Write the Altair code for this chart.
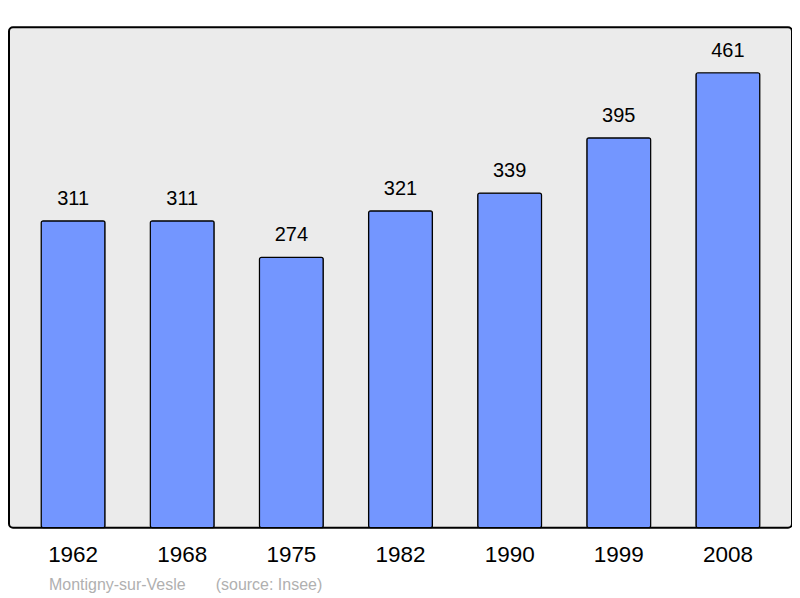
import altair as alt
import pandas as pd

years = ["1962", "1968", "1975", "1982", "1990", "1999", "2008"]
population = [311, 311, 274, 321, 339, 395, 461]
source_text = ["Montigny-sur-Vesle", "(source: Insee)"]

df = pd.DataFrame({"year": years, "pop": population})

FONT = "Liberation Sans"

x = alt.X("year:N", sort=years, title=None,
          scale=alt.Scale(paddingInner=0.415, paddingOuter=0.295, round=False),
          axis=alt.Axis(labelAngle=0, labelFontSize=22.5, labelColor="black",
                        labelFont=FONT, ticks=False, domain=False,
                        labelPadding=16, grid=False))
y = alt.Y("pop:Q", title=None, scale=alt.Scale(domain=[0, 507], nice=False),
          axis=None)

bars = alt.Chart(df).mark_bar(fill="#7396FF", stroke="black", strokeWidth=1.2,
                              cornerRadius=2).encode(x=x, y=y)
labels = alt.Chart(df).mark_text(fontSize=20, font=FONT, color="black",
                                 baseline="middle", dy=-22).encode(
    x=alt.X("year:N", sort=years), y="pop:Q", text="pop:Q")
src1 = alt.Chart(pd.DataFrame({"t": [source_text[0]]})).mark_text(
    fontSize=16, font=FONT, color="#B0B0B0", align="left",
    baseline="alphabetic").encode(x=alt.value(40), y=alt.value(563), text="t:N")
src2 = alt.Chart(pd.DataFrame({"t": [source_text[1]]})).mark_text(
    fontSize=16, font=FONT, color="#B0B0B0", align="left",
    baseline="alphabetic").encode(x=alt.value(207), y=alt.value(563), text="t:N")

chart = alt.layer(bars, labels, src1, src2).properties(
    width=784, height=501,
    autosize=alt.AutoSizeParams(type="none"),
    padding={"left": 1, "top": 19, "right": 0, "bottom": 70},
).configure_view(
    fill="#EBEBEB", stroke="black", strokeWidth=2, cornerRadius=4
)

chart.save("out.html", embed_options={"renderer": "svg", "actions": False})
